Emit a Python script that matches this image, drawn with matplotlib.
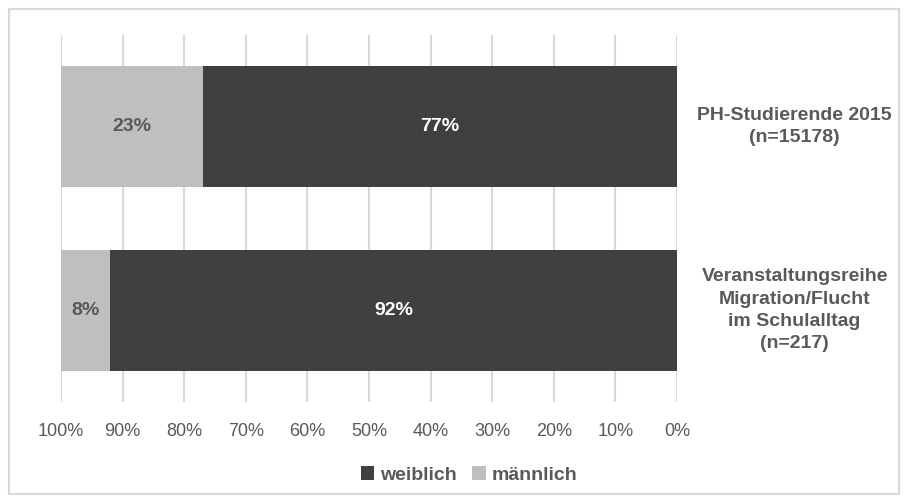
import matplotlib
matplotlib.use("Agg")
import matplotlib.pyplot as plt
from matplotlib import font_manager
from matplotlib.patches import Rectangle
import matplotlib.transforms as mtransforms

names = {f.name for f in font_manager.fontManager.ttflist}
narrow = "Liberation Sans Narrow" if "Liberation Sans Narrow" in names else "Liberation Sans"
plt.rcParams['font.family'] = [narrow, 'DejaVu Sans']

categories = ["Veranstaltungsreihe\nMigration/Flucht\nim Schulalltag\n(n=217)",
              "PH-Studierende 2015\n(n=15178)"]
weiblich = [0.92, 0.77]
maennlich = [0.08, 0.23]
xticks = [1.0, 0.9, 0.8, 0.7, 0.6, 0.5, 0.4, 0.3, 0.2, 0.1, 0.0]
xticklabels = ["100%", "90%", "80%", "70%", "60%", "50%", "40%", "30%", "20%", "10%", "0%"]

c_w = "#404040"
c_m = "#bfbfbf"
tc = "#595959"

fig = plt.figure(figsize=(9.09, 5.03), dpi=100)
fig.patches.append(Rectangle((9/909, 1 - 494/503), 890/909, 485/503, transform=fig.transFigure,
                             fill=False, edgecolor="#d9d9d9", linewidth=1.5))
ax = fig.add_axes([61/909, 1 - 402/503, 616/909, 367/503])

ypos = list(range(len(categories)))
bw = ax.barh(ypos, weiblich, left=0, height=0.66, color=c_w, label="weiblich", zorder=3)
bm = ax.barh(ypos, maennlich, left=weiblich, height=0.66, color=c_m, label="männlich", zorder=3)

for i in ypos:
    ax.text(weiblich[i] / 2, i, f"{round(weiblich[i]*100)}%", ha="center", va="center",
            color="white", fontsize=14, fontweight="bold", zorder=4)
    ax.text(weiblich[i] + maennlich[i] / 2, i, f"{round(maennlich[i]*100)}%", ha="center", va="center",
            color=tc, fontsize=14, fontweight="bold", zorder=4)

trans = mtransforms.blended_transform_factory(ax.transAxes, ax.transData)
for i, lab in enumerate(categories):
    ax.text(1.191, i, lab, transform=trans, ha="center", va="center", color=tc,
            fontsize=14, fontweight="bold", linespacing=1.4)

ax.set_xlim(1.0, 0.0)
ax.set_ylim(-0.5, 1.5)
ax.set_xticks(xticks)
ax.set_xticklabels(xticklabels, fontsize=13, color=tc)
ax.set_yticks([])
ax.tick_params(axis="x", length=0, pad=15)
ax.grid(axis="x", color="#d9d9d9", linewidth=1.5, zorder=0)
for s in ax.spines.values():
    s.set_visible(False)

fig.legend(handles=[bw, bm], labels=["weiblich", "männlich"], loc="center",
           bbox_to_anchor=(469/909, 1 - 475/503), ncol=2, frameon=False,
           prop={"family": narrow, "weight": "bold", "size": 14}, labelcolor=tc,
           handlelength=0.7, handleheight=0.7, handletextpad=0.3, columnspacing=0.8)

fig.savefig("out.png", dpi=100)
